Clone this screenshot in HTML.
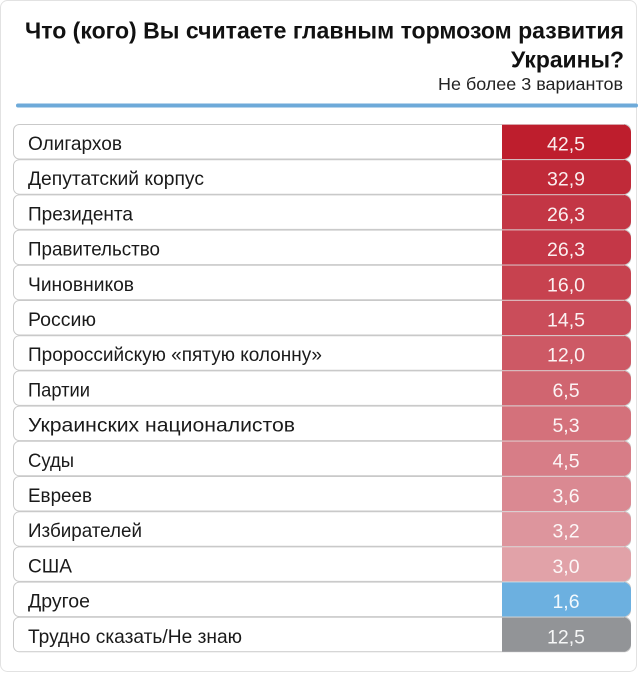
<!DOCTYPE html>
<html><head><meta charset="utf-8"><style>
html,body{margin:0;padding:0;background:#fff;}
svg{display:block;}
text{font-family:"Liberation Sans","Noto Sans CJK SC",sans-serif;}
</style></head><body>
<svg width="638" height="673" viewBox="0 0 638 673" xmlns="http://www.w3.org/2000/svg">
<rect x="0.5" y="0.5" width="636" height="671" rx="7" fill="#fff" stroke="#e2e2e2"/>
<text x="624" y="38.3" text-anchor="end" font-size="23.5" font-weight="bold" fill="#111" textLength="599" lengthAdjust="spacingAndGlyphs">Что (кого) Вы считаете главным тормозом развития</text>
<text x="624" y="67.3" text-anchor="end" font-size="23.5" font-weight="bold" fill="#111" textLength="113" lengthAdjust="spacingAndGlyphs">Украины?</text>
<text x="623" y="90" text-anchor="end" font-size="17.5" fill="#222" textLength="185" lengthAdjust="spacingAndGlyphs">Не более 3 вариантов</text>
<rect x="16" y="103.5" width="622" height="4" rx="2" fill="#6eaad9"/>
<g id="rows"></g>
</svg>
<script>
var data=[
["Олигархов","42,5","#be1e2d",94],
["Депутатский корпус","32,9","#c02a39",176],
["Президента","26,3","#c33645",105],
["Правительство","26,3","#c43747",132],
["Чиновников","16,0","#c7424f",106],
["Россию","14,5","#ca4d5a",68],
["Пророссийскую «пятую колонну»","12,0","#cd5965",294],
["Партии","6,5","#d06570",62],
["Украинских националистов","5,3","#d4717b",267],
["Суды","4,5","#d77d87",46],
["Евреев","3,6","#da8992",64],
["Избирателей","3,2","#dd959d",114],
["США","3,0","#e1a2a8",44],
["Другое","1,6","#6cb0e0",62],
["Трудно сказать/Не знаю","12,5","#929497",214]
];
var g=document.getElementById("rows"),h="";
for(var i=0;i<data.length;i++){
 var y=124+i*35.2, d=data[i];
 h+='<rect x="13.5" y="'+(y+0.5)+'" width="617" height="34.5" rx="6" fill="#fff" stroke="#c9c9c9"/>';
 h+='<path d="M502 '+(y+0.5)+' H623 a8 8 0 0 1 8 8 V'+(y+27)+' a8 8 0 0 1 -8 8 H502 Z" fill="'+d[2]+'"/>';
 h+='<line x1="502" y1="'+(y+0.5)+'" x2="624" y2="'+(y+0.5)+'" stroke="rgba(255,255,255,0.35)" stroke-width="1"/>';
 h+='<text x="28" y="'+(y+26)+'" font-size="19.5" fill="#1a1a1a" textLength="'+d[3]+'" lengthAdjust="spacingAndGlyphs">'+d[0]+'</text>';
 h+='<text x="566" y="'+(y+26.5)+'" text-anchor="middle" font-size="19.5" fill="rgba(255,255,255,0.92)">'+d[1]+'</text>';
}
g.innerHTML=h;
</script>
</body></html>
